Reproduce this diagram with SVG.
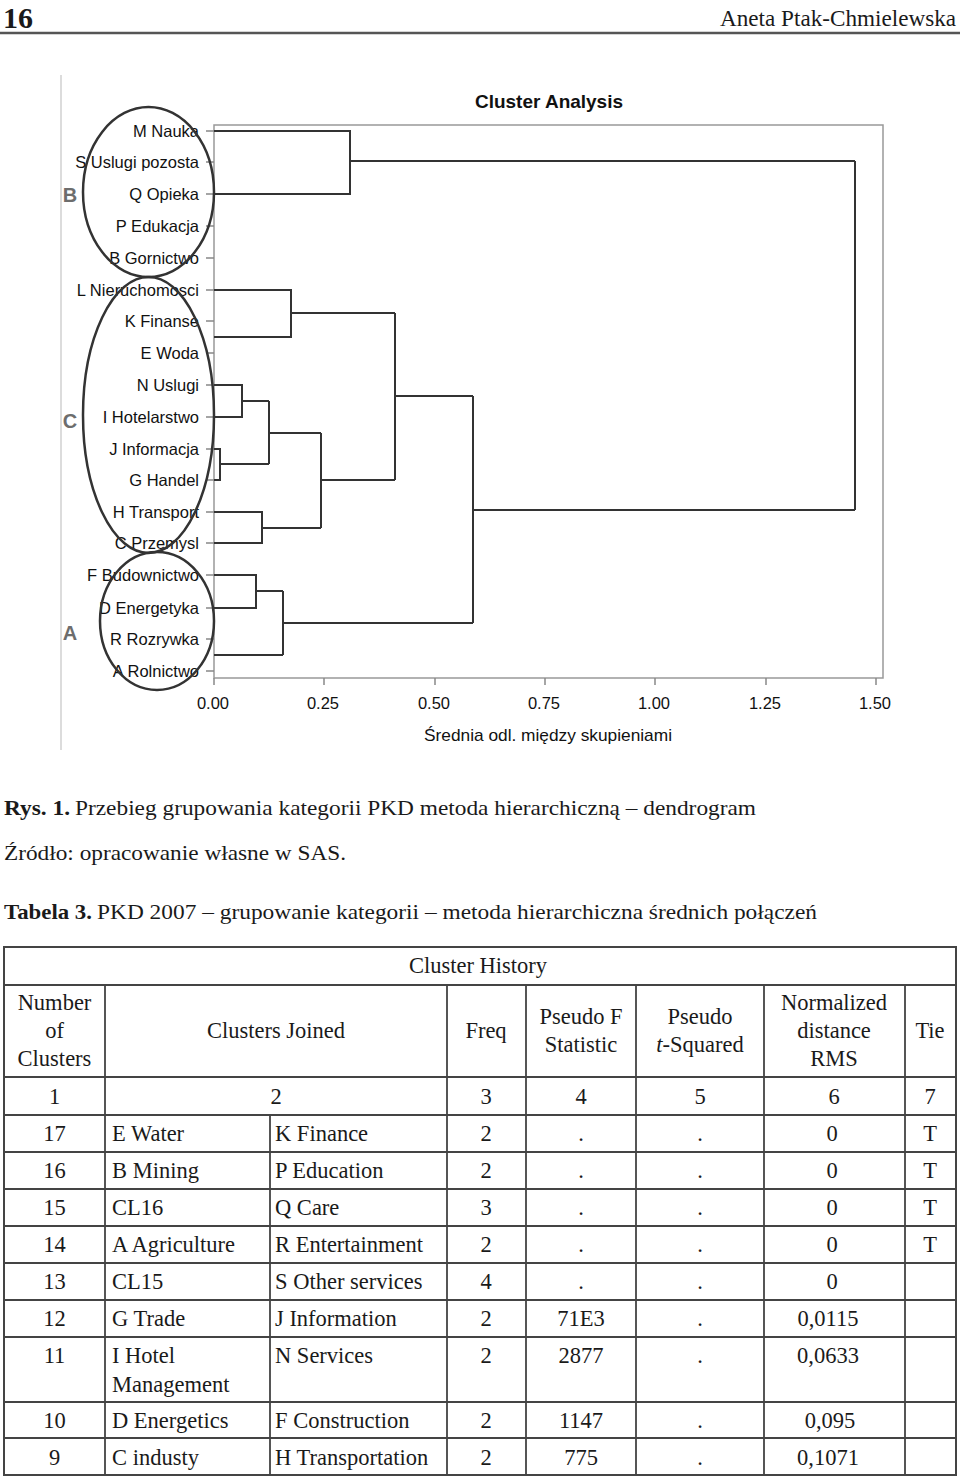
<svg xmlns="http://www.w3.org/2000/svg" width="960" height="1477" viewBox="0 0 960 1477">
<style>
.serif{font-family:"Liberation Serif","Times New Roman",serif;fill:#1a1a1a}
.sans{font-family:"Liberation Sans",Arial,sans-serif;fill:#111}
.leaf{font-family:"Liberation Sans",Arial,sans-serif;font-size:16.5px;fill:#111;text-anchor:end}
.tick{font-family:"Liberation Sans",Arial,sans-serif;font-size:16.5px;fill:#111;text-anchor:middle}
.tree{fill:none;stroke:#333;stroke-width:2}
.frame{fill:none;stroke:#999;stroke-width:1.5}
.tk{stroke:#888;stroke-width:1.5}
.ell{fill:none;stroke:#333;stroke-width:2.5}
.grp{font-family:"Liberation Sans",Arial,sans-serif;font-size:20px;font-weight:bold;fill:#6d6d6d;text-anchor:middle}
.tb{font-family:"Liberation Serif","Times New Roman",serif;font-size:22.5px;fill:#1a1a1a}
.c{text-anchor:middle}
.tl{stroke:#444;stroke-width:1.8}
</style>

<g id="page-header">
<text class="serif" x="3" y="28" font-size="30" font-weight="bold">16</text>
<text class="serif" x="956" y="26" font-size="23" text-anchor="end" textLength="236" lengthAdjust="spacingAndGlyphs">Aneta Ptak-Chmielewska</text>
<line x1="0" y1="33" x2="960" y2="33" stroke="#555" stroke-width="2.5"/>
</g>

<line x1="61" y1="75" x2="61" y2="750" stroke="#d0d0d0" stroke-width="1.5"/>

<g id="chart">
<text class="sans" x="549" y="108" font-size="19" font-weight="bold" text-anchor="middle" textLength="148" lengthAdjust="spacingAndGlyphs">Cluster Analysis</text>
<path class="frame" d="M214 125 H883 V678 H214 Z"/>
<g id="x-ticks">
<line class="tk" x1="214" y1="678" x2="214" y2="685"/>
<line class="tk" x1="324" y1="678" x2="324" y2="685"/>
<line class="tk" x1="435" y1="678" x2="435" y2="685"/>
<line class="tk" x1="545" y1="678" x2="545" y2="685"/>
<line class="tk" x1="655" y1="678" x2="655" y2="685"/>
<line class="tk" x1="766" y1="678" x2="766" y2="685"/>
<line class="tk" x1="876" y1="678" x2="876" y2="685"/>
<text class="tick" x="213" y="709">0.00</text>
<text class="tick" x="323" y="709">0.25</text>
<text class="tick" x="434" y="709">0.50</text>
<text class="tick" x="544" y="709">0.75</text>
<text class="tick" x="654" y="709">1.00</text>
<text class="tick" x="765" y="709">1.25</text>
<text class="tick" x="875" y="709">1.50</text>
<text class="sans" x="548" y="741" font-size="17" text-anchor="middle" textLength="248" lengthAdjust="spacingAndGlyphs">Średnia odl. między skupieniami</text>
</g>
<g id="leaves">
<path class="tk" d="M206 131H214M206 162H214M206 194H214M206 226H214M206 258H214M206 290H214M206 321H214M206 353H214M206 385H214M206 417H214M206 449H214M206 480H214M206 512H214M206 543H214M206 575H214M206 608H214M206 639H214M206 671H214"/>
<text class="leaf" x="199" y="137">M Nauka</text>
<text class="leaf" x="199" y="168">S Uslugi pozosta</text>
<text class="leaf" x="199" y="200">Q Opieka</text>
<text class="leaf" x="199" y="232">P Edukacja</text>
<text class="leaf" x="199" y="264">B Gornictwo</text>
<text class="leaf" x="199" y="296">L Nieruchomosci</text>
<text class="leaf" x="199" y="327">K Finanse</text>
<text class="leaf" x="199" y="359">E Woda</text>
<text class="leaf" x="199" y="391">N Uslugi</text>
<text class="leaf" x="199" y="423">I Hotelarstwo</text>
<text class="leaf" x="199" y="455">J Informacja</text>
<text class="leaf" x="199" y="486">G Handel</text>
<text class="leaf" x="199" y="518">H Transport</text>
<text class="leaf" x="199" y="549">C Przemysl</text>
<text class="leaf" x="199" y="581">F Budownictwo</text>
<text class="leaf" x="199" y="614">D Energetyka</text>
<text class="leaf" x="199" y="645">R Rozrywka</text>
<text class="leaf" x="199" y="677">A Rolnictwo</text>
</g>
<g id="connectors">
<path class="tree" d="M214 131H350V194H214M350 161H855"/>
<path class="tree" d="M214 290H291V337H214M291 313H395"/>
<path class="tree" d="M214 385H242V417H214M242 401H269"/>
<path class="tree" d="M214 449H220V480H214M220 464H269"/>
<path class="tree" d="M269 401V464M269 433H321"/>
<path class="tree" d="M214 512H262V543H214M262 528H321"/>
<path class="tree" d="M321 433V528M321 480H395"/>
<path class="tree" d="M395 313V480M395 396H473"/>
<path class="tree" d="M214 575H256V608H214M256 591H283"/>
<path class="tree" d="M214 655H283M283 591V655M283 623H473"/>
<path class="tree" d="M473 396V623M473 510H855"/>
<path class="tree" d="M855 161V510"/>
</g>
<g id="group-B">
<ellipse class="ell" cx="148.5" cy="192" rx="65.5" ry="85"/>
<text class="grp" x="70" y="202">B</text>
</g>
<g id="group-C">
<ellipse class="ell" cx="148.5" cy="415" rx="65.5" ry="138"/>
<text class="grp" x="70" y="428">C</text>
</g>
<g id="group-A">
<ellipse class="ell" cx="157" cy="621" rx="57" ry="69"/>
<text class="grp" x="70" y="640">A</text>
</g>
</g>

<g id="captions">
<text class="serif" x="4" y="815" font-size="22" font-weight="bold" textLength="66" lengthAdjust="spacingAndGlyphs">Rys. 1.</text>
<text class="serif" x="75" y="815" font-size="22" textLength="681" lengthAdjust="spacingAndGlyphs">Przebieg grupowania kategorii PKD metoda hierarchiczną – dendrogram</text>
<text class="serif" x="4" y="860" font-size="22" textLength="342" lengthAdjust="spacingAndGlyphs">Źródło: opracowanie własne w SAS.</text>
<text class="serif" x="4" y="919" font-size="22" font-weight="bold" textLength="88" lengthAdjust="spacingAndGlyphs">Tabela 3.</text>
<text class="serif" x="97" y="919" font-size="22" textLength="720" lengthAdjust="spacingAndGlyphs">PKD 2007 – grupowanie kategorii – metoda hierarchiczna średnich połączeń</text>
</g>

<g id="table">
<g id="grid">
<rect x="4" y="947" width="952" height="528" fill="none" stroke="#444" stroke-width="2"/>
<path class="tl" d="M4 985H956M4 1077H956M4 1115H956M4 1152H956M4 1189H956M4 1226H956M4 1263H956M4 1300H956M4 1337H956M4 1402H956M4 1438H956"/>
<path class="tl" d="M105 985V1475M270 1115V1475M447 985V1475M526 985V1475M636 985V1475M764 985V1475M905 985V1475"/>
</g>
<g id="header">
<text class="tb c" x="478" y="973">Cluster History</text>
<text class="tb c" x="54.5" y="1010">Number</text>
<text class="tb c" x="54.5" y="1038">of</text>
<text class="tb c" x="54.5" y="1066">Clusters</text>
<text class="tb c" x="276" y="1038">Clusters Joined</text>
<text class="tb c" x="486" y="1038">Freq</text>
<text class="tb c" x="581" y="1024">Pseudo F</text>
<text class="tb c" x="581" y="1052">Statistic</text>
<text class="tb c" x="700" y="1024">Pseudo</text>
<text class="tb c" x="700" y="1052"><tspan font-style="italic">t</tspan>-Squared</text>
<text class="tb c" x="834" y="1010">Normalized</text>
<text class="tb c" x="834" y="1038">distance</text>
<text class="tb c" x="834" y="1066">RMS</text>
<text class="tb c" x="930" y="1038">Tie</text>
<text class="tb c" x="54.5" y="1104">1</text>
<text class="tb c" x="276" y="1104">2</text>
<text class="tb c" x="486" y="1104">3</text>
<text class="tb c" x="581" y="1104">4</text>
<text class="tb c" x="700" y="1104">5</text>
<text class="tb c" x="834" y="1104">6</text>
<text class="tb c" x="930" y="1104">7</text>
</g>
<g id="row-17">
<text class="tb c" x="54.5" y="1141">17</text><text class="tb" x="112" y="1141">E Water</text><text class="tb" x="275" y="1141">K Finance</text>
<text class="tb c" x="486" y="1141">2</text><text class="tb c" x="581" y="1141">.</text><text class="tb c" x="700" y="1141">.</text><text class="tb c" x="832" y="1141">0</text><text class="tb c" x="930" y="1141">T</text>
</g>
<g id="row-16">
<text class="tb c" x="54.5" y="1178">16</text><text class="tb" x="112" y="1178">B Mining</text><text class="tb" x="275" y="1178">P Education</text>
<text class="tb c" x="486" y="1178">2</text><text class="tb c" x="581" y="1178">.</text><text class="tb c" x="700" y="1178">.</text><text class="tb c" x="832" y="1178">0</text><text class="tb c" x="930" y="1178">T</text>
</g>
<g id="row-15">
<text class="tb c" x="54.5" y="1215">15</text><text class="tb" x="112" y="1215">CL16</text><text class="tb" x="275" y="1215">Q Care</text>
<text class="tb c" x="486" y="1215">3</text><text class="tb c" x="581" y="1215">.</text><text class="tb c" x="700" y="1215">.</text><text class="tb c" x="832" y="1215">0</text><text class="tb c" x="930" y="1215">T</text>
</g>
<g id="row-14">
<text class="tb c" x="54.5" y="1252">14</text><text class="tb" x="112" y="1252">A Agriculture</text><text class="tb" x="275" y="1252">R Entertainment</text>
<text class="tb c" x="486" y="1252">2</text><text class="tb c" x="581" y="1252">.</text><text class="tb c" x="700" y="1252">.</text><text class="tb c" x="832" y="1252">0</text><text class="tb c" x="930" y="1252">T</text>
</g>
<g id="row-13">
<text class="tb c" x="54.5" y="1289">13</text><text class="tb" x="112" y="1289">CL15</text><text class="tb" x="275" y="1289">S Other services</text>
<text class="tb c" x="486" y="1289">4</text><text class="tb c" x="581" y="1289">.</text><text class="tb c" x="700" y="1289">.</text><text class="tb c" x="832" y="1289">0</text>
</g>
<g id="row-12">
<text class="tb c" x="54.5" y="1326">12</text><text class="tb" x="112" y="1326">G Trade</text><text class="tb" x="275" y="1326">J Information</text>
<text class="tb c" x="486" y="1326">2</text><text class="tb c" x="581" y="1326">71E3</text><text class="tb c" x="700" y="1326">.</text><text class="tb c" x="828" y="1326">0,0115</text>
</g>
<g id="row-11">
<text class="tb c" x="54.5" y="1363">11</text><text class="tb" x="112" y="1363">I Hotel</text><text class="tb" x="112" y="1392">Management</text><text class="tb" x="275" y="1363">N Services</text>
<text class="tb c" x="486" y="1363">2</text><text class="tb c" x="581" y="1363">2877</text><text class="tb c" x="700" y="1363">.</text><text class="tb c" x="828" y="1363">0,0633</text>
</g>
<g id="row-10">
<text class="tb c" x="54.5" y="1428">10</text><text class="tb" x="112" y="1428">D Energetics</text><text class="tb" x="275" y="1428">F Construction</text>
<text class="tb c" x="486" y="1428">2</text><text class="tb c" x="581" y="1428">1147</text><text class="tb c" x="700" y="1428">.</text><text class="tb c" x="830" y="1428">0,095</text>
</g>
<g id="row-9">
<text class="tb c" x="54.5" y="1465">9</text><text class="tb" x="112" y="1465">C industy</text><text class="tb" x="275" y="1465">H Transportation</text>
<text class="tb c" x="486" y="1465">2</text><text class="tb c" x="581" y="1465">775</text><text class="tb c" x="700" y="1465">.</text><text class="tb c" x="828" y="1465">0,1071</text>
</g>
</g>
</svg>
